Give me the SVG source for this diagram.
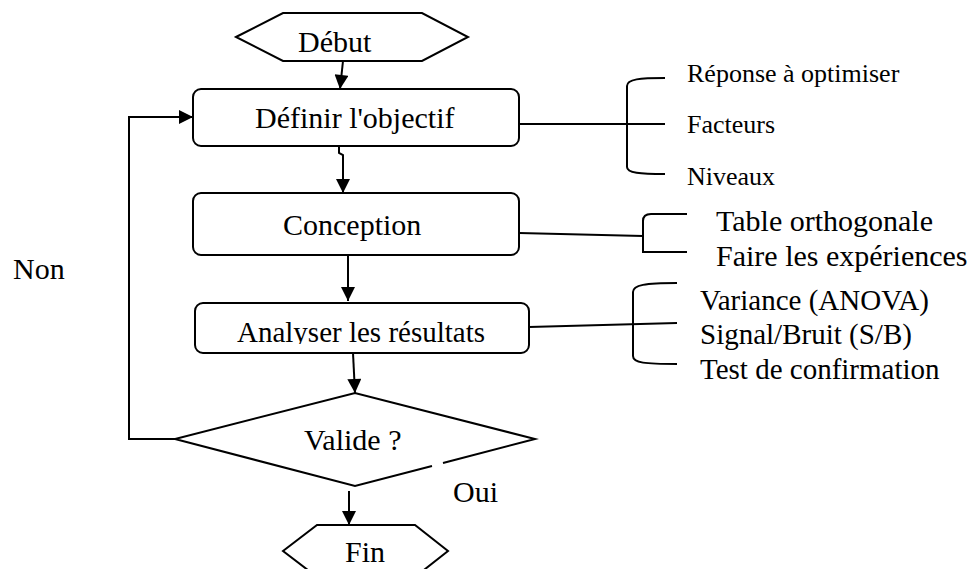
<svg xmlns="http://www.w3.org/2000/svg" width="969" height="569" viewBox="0 0 969 569">
<style>
.s{fill:#fff;stroke:#000;stroke-width:2}
.l{fill:none;stroke:#000;stroke-width:2}
.t{font-family:"Liberation Serif","Times New Roman",serif;font-size:30px;fill:#000}
.r{font-family:"Liberation Serif","Times New Roman",serif;font-size:26px;fill:#000}
.q{font-family:"Liberation Serif","Times New Roman",serif;font-size:29px;fill:#000}
</style>
<defs>
<marker id="ah" viewBox="0 0 10 10" refX="10" refY="5" markerWidth="15" markerHeight="14" markerUnits="userSpaceOnUse" orient="auto"><path d="M0,0 L10,5 L0,10 z" fill="#000"/></marker>
<clipPath id="cpA"><rect x="195" y="303" width="334" height="41"/></clipPath>
</defs>
<rect width="969" height="569" fill="#fff"/>
<g id="connectors">
<path class="l" d="M343,61 L340,89" marker-end="url(#ah)"/>
<path class="l" d="M339,146 L339,153 L343,155 L343,193" marker-end="url(#ah)"/>
<path class="l" d="M348,255 L348,301" marker-end="url(#ah)"/>
<path class="l" d="M353,353 L355,393" marker-end="url(#ah)"/>
<path class="l" d="M349,491 L349,525" marker-end="url(#ah)"/>
<path class="l" d="M175,439 L129,439 L129,117 L193,117" marker-end="url(#ah)"/>
<path class="l" d="M519,124 L665,124"/>
<path class="l" d="M519,233 L643,236"/>
<path class="l" d="M529,327 L677,323"/>
</g>
<g id="debut">
<polygon class="s" points="236,37 283,13 422,13 468,37 422,61 283,61"/>
<text class="t" x="298" y="52">Début</text>
</g>
<g id="definir">
<rect class="s" x="193" y="89" width="326" height="57" rx="8"/>
<text class="t" x="255" y="128">Définir l'objectif</text>
</g>
<g id="conception">
<rect class="s" x="193" y="193" width="326" height="62" rx="8"/>
<text class="t" x="283" y="235">Conception</text>
</g>
<g id="analyser">
<rect class="s" x="195" y="303" width="334" height="50" rx="8"/>
<text class="q" x="237" y="342" clip-path="url(#cpA)">Analyser les résultats</text>
</g>
<g id="valide">
<polygon points="355,393 535,439 355,486 175,439" fill="#fff"/>
<path class="l" d="M443,463 L535,439 L355,393 L175,439 L355,486 L432,466"/>
<text class="t" x="304" y="450">Valide ?</text>
</g>
<g id="fin">
<polygon class="s" points="283,551 317,525 415,525 448,551 415,577 317,577"/>
<text class="t" x="345" y="562">Fin</text>
</g>
<g id="labels">
<text class="t" x="13" y="279">Non</text>
<text class="t" x="453" y="502">Oui</text>
</g>
<g id="objectif-details">
<path class="l" d="M665,78 C640,78 627,79 627,86 L627,167 C627,173 640,174 665,174"/>
<text class="r" x="687" y="82">Réponse à optimiser</text>
<text class="r" x="687" y="133">Facteurs</text>
<text class="r" x="687" y="185">Niveaux</text>
</g>
<g id="conception-details">
<path class="l" d="M687,214 L651,214 Q643,214 643,221 L643,252 L687,252"/>
<text class="t" x="716" y="231">Table orthogonale</text>
<text class="t" x="716" y="266">Faire les expériences</text>
</g>
<g id="analyse-details">
<path class="l" d="M677,283 C645,283 633,285 633,292 L633,356 C633,363 645,364 677,364"/>
<text class="q" x="700" y="310">Variance (ANOVA)</text>
<text class="q" x="700" y="344">Signal/Bruit (S/B)</text>
<text class="q" x="700" y="379">Test de confirmation</text>
</g>
</svg>
